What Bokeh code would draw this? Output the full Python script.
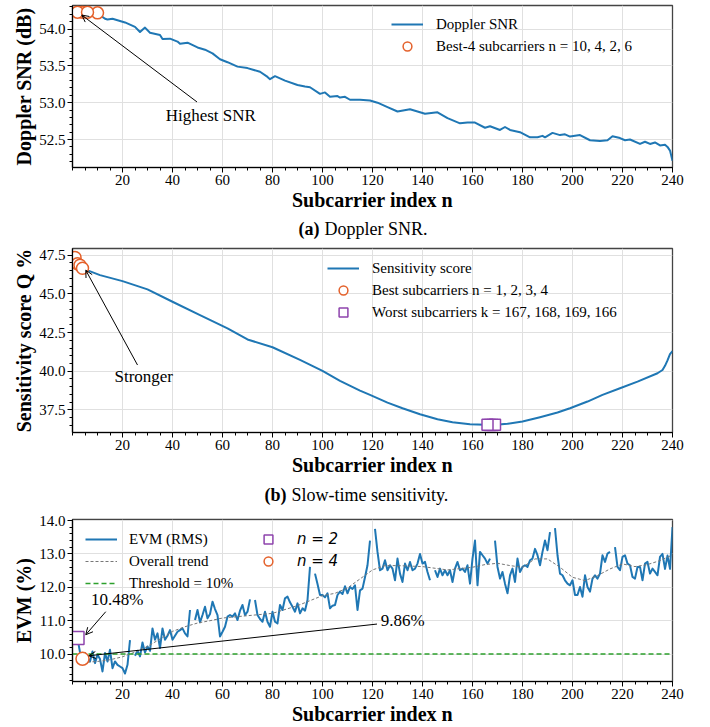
import numpy as np
from bokeh.plotting import figure
from bokeh.layouts import column
from bokeh.models import (Legend, LegendItem, Label, Arrow, OpenHead, FixedTicker,
                          Range1d, NumeralTickFormatter)
from bokeh.embed import file_html
from bokeh.resources import INLINE

SERIF = "Liberation Serif"
BLUE = "#1f77b4"
ORANGE = "#e4612b"
PURPLE = "#8e44ad"

# ---------------- data ----------------
x_lim = (0, 240)
x_ticks = [20, 40, 60, 80, 100, 120, 140, 160, 180, 200, 220, 240]

# (a) Doppler SNR
snr_n = [1, 2, 4, 6, 8, 10, 11, 13, 14, 16, 18, 21, 25, 27, 29, 31, 35, 36, 39, 42, 43, 46,
         50, 53, 56, 59, 62, 66, 70, 75, 78, 79, 81, 85, 90, 93, 95, 99, 101, 103, 106, 107,
         109, 111, 115, 119, 122, 126, 130, 135, 139, 141, 146, 150, 155, 158, 161, 165, 167,
         171, 173, 175, 179, 183, 186, 188, 189, 192, 195, 197, 199, 203, 207, 211, 214, 216,
         219, 221, 223, 227, 229, 231, 233, 235, 237, 238, 239, 240]
snr_db = [54.22, 54.23, 54.23, 54.23, 54.22, 54.22, 54.19, 54.14, 54.13, 54.14, 54.12, 54.09,
          54.03, 53.96, 54.02, 53.95, 53.92, 53.865, 53.87, 53.83, 53.80, 53.815, 53.75, 53.72,
          53.67, 53.59, 53.55, 53.49, 53.47, 53.42, 53.35, 53.32, 53.36, 53.30, 53.24, 53.22,
          53.21, 53.12, 53.14, 53.08, 53.09, 53.07, 53.08, 53.04, 53.04, 53.03, 53.00, 52.94,
          52.88, 52.91, 52.87, 52.85, 52.87, 52.79, 52.72, 52.73, 52.73, 52.66, 52.68, 52.63,
          52.67, 52.63, 52.60, 52.53, 52.53, 52.55, 52.53, 52.59, 52.56, 52.57, 52.54, 52.56,
          52.49, 52.48, 52.49, 52.545, 52.52, 52.49, 52.50, 52.44, 52.47, 52.44, 52.46, 52.42,
          52.43, 52.40, 52.35, 52.21]
best4_n = [10, 4, 2, 6]
best4_db = [54.22, 54.23, 54.23, 54.23]
snr_ylim = (52.12, 54.32)
snr_ticks = [52.5, 53.0, 53.5, 54.0]

# (b) Slow-time sensitivity
sens_n = [1, 2, 3, 4, 5, 11, 20, 30, 40, 51, 62, 70, 80, 91, 100, 107, 115, 119, 126, 132, 139,
          146, 152, 159, 168, 174, 180, 187, 194, 199, 206, 212, 219, 226, 234, 236, 237, 238,
          239, 240]
sens_q = [47.35, 46.95, 46.85, 46.65, 46.58, 46.21, 45.82, 45.29, 44.49, 43.63, 42.77, 42.05,
          41.55, 40.73, 40.02, 39.38, 38.75, 38.47, 37.97, 37.61, 37.22, 36.90, 36.70, 36.58,
          36.53, 36.60, 36.75, 37.03, 37.33, 37.61, 38.04, 38.47, 38.90, 39.33, 39.87, 40.08,
          40.35, 40.70, 41.10, 41.30]
best_n = [1, 2, 3, 4]
best_q = [47.35, 46.95, 46.85, 46.65]
worst_k = [167, 168, 169, 166]
worst_q = [36.53, 36.53, 36.54, 36.54]
sens_ylim = (36.04, 47.93)
sens_ticks = [37.5, 40.0, 42.5, 45.0, 47.5]

# (c) EVM
evm_n = list(range(1, 241))
evm_pct = [
    10.50, 10.48, 10.05, 9.86, 10.03, 9.90, 9.78, 10.08, 9.73, 9.98,
    9.85, 9.48, 10.03, 9.78, 10.13, 9.58, 9.78, 9.68, 9.63, 9.58,
    9.42, 9.68, 10.42, None, 9.95, 10.10, 9.93, 10.35, 10.05, 10.23,
    10.10, 10.77, 10.43, 10.62, 10.18, 10.77, 10.43, 10.55, 10.72, 10.43,
    10.55, 10.67, 10.72, 10.77, 10.62, 10.53, 11.32, None, 11.02, 11.32,
    10.95, 11.17, 11.42, 11.07, 11.20, 11.57, 11.35, 11.17, 10.53, 10.67,
    10.82, 11.12, 11.17, 11.12, 11.22, 11.02, 11.30, 11.47, 11.17, 11.27,
    11.64, None, 11.62, 11.17, 11.05, 10.97, 11.27, 10.97, 10.82, 11.27,
    10.97, 10.92, 11.47, 11.32, 11.67, 11.72, 11.55, 11.42, 11.27, 11.52,
    11.22, 11.37, 11.30, 11.62, 12.61, None, 12.41, 12.10, 11.77, 11.77,
    11.70, 11.82, 11.37, 11.45, 11.47, 11.77, 11.87, 11.80, 12.03, 11.82,
    12.01, 11.95, 12.06, 11.32, 11.91, 11.96, 12.30, 12.66, 13.40, None,
    13.75, 13.06, 12.51, 12.56, 12.81, 12.51, 12.66, 12.56, 12.21, 12.86,
    12.41, 12.16, 12.71, 12.51, 12.76, 12.51, 12.56, 12.71, 13.00, 12.71,
    12.76, 12.46, 12.21, None, 12.51, 12.31, 12.56, 12.36, 12.51, 12.36,
    12.51, 12.16, 12.56, 12.76, 12.51, 12.56, 12.46, 12.66, 12.11, 12.86,
    13.40, 12.06, 13.06, 12.96, 12.86, 12.71, 12.86, None, 13.40, 12.61,
    12.26, 12.46, 12.11, 11.82, 12.36, 12.56, 12.16, 12.86, 12.46, 12.61,
    12.66, 12.61, 12.81, 12.86, 13.15, 12.96, 12.66, 13.06, 13.40, 13.11,
    13.65, None, 13.77, 12.96, 12.41, 12.36, 12.21, 12.11, 12.06, 12.21,
    11.77, 11.77, 12.01, 11.72, 12.36, 12.01, 11.87, 12.26, 12.36, 12.26,
    12.41, 12.96, 12.76, 13.01, 13.06, None, 13.20, 12.61, 12.51, 12.91,
    12.96, 12.71, 12.66, 12.31, 12.26, 12.61, 12.61, 12.21, 12.71, 12.76,
    12.41, 12.56, 12.46, 12.36, 12.91, 13.00, 12.55, 12.95, 12.55, 13.80]
trend_n = [4, 10, 15, 20, 25, 30, 35, 40, 45, 50, 55, 60, 70, 80, 90, 100, 105, 110, 115, 120,
           125, 130, 140, 150, 160, 165, 170, 175, 180, 185, 190, 195, 200, 205, 210, 215, 220,
           225, 230, 235, 240]
trend_pct = [9.75, 9.78, 9.83, 9.92, 10.06, 10.23, 10.45, 10.68, 10.82, 10.93, 11.00, 11.08,
             11.15, 11.22, 11.45, 11.75, 11.82, 11.98, 12.25, 12.52, 12.65, 12.65, 12.62, 12.52,
             12.60, 12.68, 12.72, 12.65, 12.60, 12.85, 12.85, 12.60, 12.30, 12.20, 12.35, 12.55,
             12.70, 12.62, 12.68, 12.80, 12.97]
threshold_pct = 10.0
mark_n2 = ([2], [10.48])
mark_n4 = ([4], [9.86])
evm_ylim = (9.18, 14.03)
evm_ticks = [10.0, 11.0, 12.0, 13.0, 14.0]

captions = [("(a)", "Doppler SNR."), ("(b)", "Slow-time sensitivity.")]

LEFT, RIGHT, WIDTH = 72, 38, 710


def base_fig(height, top, bottom, ylim, yticks, yminor, ylabel):
    p = figure(width=WIDTH, height=height, output_backend="svg", toolbar_location=None,
               x_range=Range1d(*x_lim), y_range=Range1d(*ylim),
               min_border_left=LEFT, min_border_right=RIGHT, min_border_top=top,
               min_border_bottom=bottom, background_fill_color="white",
               border_fill_color="white")
    p.outline_line_color = "#444444"
    p.outline_line_width = 1.3
    p.xaxis.ticker = FixedTicker(ticks=x_ticks, minor_ticks=list(range(0, 241, 5)))
    p.yaxis.ticker = FixedTicker(ticks=yticks, minor_ticks=yminor)
    p.xaxis.formatter = NumeralTickFormatter(format="0")
    p.yaxis.formatter = NumeralTickFormatter(format="0.0")
    p.xaxis.axis_label = "Subcarrier index n"
    p.yaxis.axis_label = ylabel
    for ax in (p.xaxis[0], p.yaxis[0]):
        ax.axis_label_text_font = SERIF
        ax.axis_label_text_font_style = "bold"
        ax.axis_label_text_font_size = "20px"
        ax.axis_label_text_color = "black"
        ax.major_label_text_font = SERIF
        ax.major_label_text_font_size = "15px"
        ax.major_label_text_color = "black"
        ax.axis_line_color = "black"
        ax.axis_line_width = 1.2
        ax.major_tick_line_color = "black"
        ax.minor_tick_line_color = "black"
        ax.major_tick_in = 0
        ax.major_tick_out = 5
        ax.minor_tick_in = 0
        ax.minor_tick_out = 3
        ax.major_label_standoff = 2
        ax.axis_label_standoff = 1
    p.xgrid.ticker = FixedTicker(ticks=x_ticks)
    p.ygrid.ticker = FixedTicker(ticks=yticks)
    p.grid.grid_line_color = "#e0e0e0"
    p.grid.grid_line_width = 1
    return p


def caption_fig(height, tag, text, x_tag_end, x_text, y_mid):
    # x range expressed in page pixels so that it lines up with the frames above
    c = figure(width=WIDTH, height=height, output_backend="svg", toolbar_location=None,
               x_range=Range1d(LEFT, WIDTH - RIGHT), y_range=Range1d(0, height),
               x_axis_type=None, y_axis_type=None, min_border_left=LEFT,
               min_border_right=RIGHT, min_border_top=0, min_border_bottom=0,
               background_fill_color="white", border_fill_color="white")
    c.outline_line_color = None
    c.grid.visible = False
    c.add_layout(Label(x=x_tag_end, y=y_mid, text=tag, text_font=SERIF,
                       text_font_style="bold", text_font_size="18px", text_color="black",
                       text_baseline="middle", text_align="right"))
    c.add_layout(Label(x=x_text, y=y_mid, text=text, text_font=SERIF, text_color="black",
                       text_font_size="18px", text_baseline="middle", text_align="left"))
    return c


def make_legend(items, loc, standoff=13):
    return Legend(items=items, location=loc, border_line_alpha=0, background_fill_alpha=0,
                  label_text_font=SERIF, label_text_font_size="15px",
                  label_text_color="black",
                  glyph_width=32, glyph_height=22, label_height=22, label_standoff=standoff,
                  padding=5, spacing=0, margin=0)


def note(p, x, y, text, align="center"):
    p.add_layout(Label(x=x, y=y, text=text, text_font=SERIF, text_font_size="17px",
                       text_color="black", text_baseline="middle", text_align=align))


def arrow(p, xs, ys, xe, ye):
    p.add_layout(Arrow(end=OpenHead(size=7, line_color="black", line_width=1),
                       x_start=xs, y_start=ys, x_end=xe, y_end=ye,
                       line_color="black", line_width=1))


# ---------------- (a) ----------------
p1 = base_fig(217, 5, 50, snr_ylim, snr_ticks,
              [round(52.2 + 0.1 * i, 2) for i in range(22)], "Doppler SNR (dB)")
r_snr = p1.line(snr_n, snr_db, line_color=BLUE, line_width=2, line_join="round")
arrow(p1, 49.8, 53.01, 3.7, 54.19)
r_b4 = p1.scatter(best4_n, best4_db, marker="circle", size=12, line_color=ORANGE,
                  line_width=1.5, fill_color="white")
note(p1, 55.3, 52.82, "Highest SNR")
p1.add_layout(make_legend([LegendItem(label="Doppler SNR", renderers=[r_snr]),
                           LegendItem(label="Best-4 subcarriers n = 10, 4, 2, 6",
                                      renderers=[r_b4])], (314, 105)))
c1 = caption_fig(28, captions[0][0], captions[0][1], 319, 324, 17)

# ---------------- (b) ----------------
p2 = base_fig(237, 3, 50, sens_ylim, sens_ticks,
              [36.5 + 0.5 * i for i in range(23)], "Sensitivity score Q %")
r_sens = p2.line(sens_n, sens_q, line_color=BLUE, line_width=2, line_join="round")
arrow(p2, 26, 40.4, 5.3, 46.53)
r_best = p2.scatter(best_n, best_q, marker="circle", size=12, line_color=ORANGE,
                    line_width=1.5, fill_color="white")
r_worst = p2.scatter(worst_k, worst_q, marker="square", size=11, line_color=PURPLE,
                     line_width=1.5, fill_color="white")
note(p2, 28.5, 39.63, "Stronger")
p2.add_layout(make_legend([LegendItem(label="Sensitivity score", renderers=[r_sens]),
                           LegendItem(label="Best subcarriers n = 1, 2, 3, 4",
                                      renderers=[r_best]),
                           LegendItem(label="Worst subcarriers k = 167, 168, 169, 166",
                                      renderers=[r_worst])], (250, 104)))
c2 = caption_fig(25, captions[1][0], captions[1][1], 286, 291, 13)

# ---------------- (c) ----------------
p3 = base_fig(220, 12, 46, evm_ylim, evm_ticks,
              [round(9.2 + 0.2 * i, 2) for i in range(25)], "EVM (%)")
evm_arr = np.array([np.nan if v is None else v for v in evm_pct], dtype=float)
r_evm = p3.line(evm_n, evm_arr, line_color=BLUE, line_width=2, line_join="round")
r_trend = p3.line(trend_n, trend_pct, line_color="#777777", line_width=1, line_dash="3 2")
r_thr = p3.line(list(x_lim), [threshold_pct, threshold_pct], line_color="#2ca02c",
                line_width=1.5, line_dash="5 3")
arrow(p3, 13.3, 11.27, 5.3, 10.58)
arrow(p3, 121.8, 10.90, 6.5, 9.95)
r_n2 = p3.scatter(mark_n2[0], mark_n2[1], marker="square", size=13, line_color=PURPLE,
                  line_width=1.5, fill_color="white")
r_n4 = p3.scatter(mark_n4[0], mark_n4[1], marker="circle", size=13, line_color=ORANGE,
                  line_width=1.5, fill_color="white")
note(p3, 17.9, 11.63, "10.48%")
note(p3, 123.3, 11.02, "9.86%", align="left")
p3.add_layout(make_legend([LegendItem(label="EVM (RMS)", renderers=[r_evm]),
                           LegendItem(label="Overall trend", renderers=[r_trend]),
                           LegendItem(label="Threshold = 10%", renderers=[r_thr])],
                          (8, 82), standoff=12))
lg_b = make_legend([LegendItem(label="n = 2", renderers=[r_n2]),
                    LegendItem(label="n = 4", renderers=[r_n4])], (175, 104))
lg_b.label_text_font = "DejaVu Sans"
lg_b.label_text_font_style = "italic"
p3.add_layout(lg_b)

layout = column(p1, c1, p2, c2, p3, spacing=0)
open("out.html", "w").write(file_html(layout, INLINE))
